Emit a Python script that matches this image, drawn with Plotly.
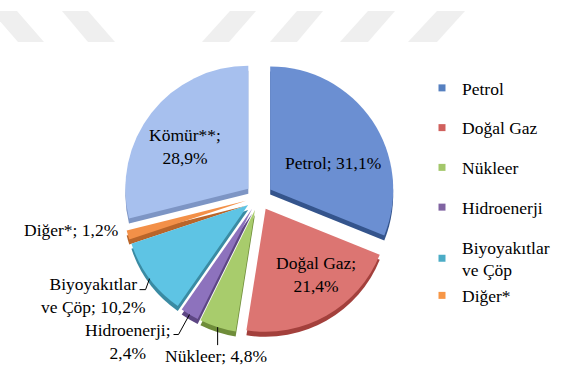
import math
import plotly.graph_objects as go

# ---- data ----
labels = ["Petrol", "Doğal Gaz", "Nükleer", "Hidroenerji", "Biyoyakıtlar ve Çöp", "Diğer*", "Kömür**"]
values = [31.1, 21.4, 4.8, 2.4, 10.2, 1.2, 28.9]
label_texts = ["Petrol; 31,1%", "Doğal Gaz;<br>21,4%", "Nükleer; 4,8%", "Hidroenerji;<br>2,4%",
               "Biyoyakıtlar<br>ve Çöp; 10,2%", "Diğer*; 1,2%", "Kömür**;<br>28,9%"]
legend_names = ["Petrol", "Doğal Gaz", "Nükleer", "Hidroenerji", "Biyoyakıtlar<br>ve Çöp", "Diğer*"]
legend_groups = ["g1", "g2", "g3", "g4", "g5", "g5"]

# ---- style ----
W, H = 564, 368
top_colors = ["#6b8fd2", "#dc7572", "#a8cc6c", "#8d72bd", "#5ec4e4", "#f39048", "#a7c0ee"]
side_colors = ["#34548c", "#a3403c", "#6f8d3a", "#5d4684", "#3a8ba3", "#b9652a", "#7d95c4"]
legend_colors = ["#5680c0", "#d0605d", "#a3c76a", "#8064a2", "#4bacc6", "#f79646"]
FONT = "Times New Roman, Liberation Serif, DejaVu Serif, serif"
FS = 17.5
PULL = 0.11
CX, CY, R = 259, 197, 123
SIZE = 2 * R * (1 + PULL)
DEPTH = 5


def px(x):
    return x / W


def py(y):
    return 1 - y / H


def dom(cx, cy):
    return dict(x=[px(cx - SIZE / 2), px(cx + SIZE / 2)], y=[py(cy + SIZE / 2), py(cy - SIZE / 2)])


fig = go.Figure()

# 3D side (darker pie slightly below)
fig.add_trace(go.Pie(labels=labels, values=values, sort=False, direction="clockwise", rotation=0,
                     pull=[PULL] * len(values), marker=dict(colors=side_colors, line=dict(width=0)),
                     textinfo="none", hoverinfo="skip", showlegend=False, domain=dom(CX, CY + DEPTH)))
# top face
fig.add_trace(go.Pie(labels=labels, values=values, sort=False, direction="clockwise", rotation=0,
                     pull=[PULL] * len(values), marker=dict(colors=top_colors, line=dict(width=0)),
                     textinfo="none", showlegend=False, domain=dom(CX, CY)))

# legend entries
for name, col, grp in zip(legend_names, legend_colors, legend_groups):
    fig.add_trace(go.Scatter(x=[None], y=[None], mode="markers", name=name, legendgroup=grp,
                             marker=dict(symbol="square", size=7, color=col)))

# slice geometry helpers (from data)
total = sum(values)


def edge_point(i, rr=1.0):
    start = sum(values[:i]) / total
    mid = (start + values[i] / total / 2) * 2 * math.pi
    cx = CX + PULL * R * math.sin(mid)
    cy = CY - PULL * R * math.cos(mid)
    return cx + rr * R * math.sin(mid), cy - rr * R * math.cos(mid)


# label positions (pixel)
label_pos = {0: (333, 163), 1: (316, 274), 2: (216, 356), 3: (128, 341), 4: (93, 295), 5: (71, 230), 6: (185, 146)}
annotations = []
for i, (x, y) in label_pos.items():
    annotations.append(dict(x=px(x), y=py(y), xref="paper", yref="paper", text=label_texts[i],
                            showarrow=False, xanchor="center", yanchor="middle", align="center",
                            font=dict(family=FONT, size=FS, color="#000000")))

shapes = []
# leader lines
leaders = {2: [(0, 18)], 3: [(-11, 20), (-16, 20)], 4: [(-4, 11), (-10, 11)]}
for i, offs in leaders.items():
    ex, ey = edge_point(i)
    pts = [(ex, ey)] + [(ex + dx, ey + dy) for dx, dy in offs]
    path = "M " + " L ".join(f"{px(a):.5f},{py(b):.5f}" for a, b in pts)
    shapes.append(dict(type="path", xref="paper", yref="paper", path=path,
                       line=dict(color="#000000", width=1)))

# faint watermark parallelograms at top
wm = [(-9, 17, 18, 44), (62, 88, 88, 115), (230, 256, 202, 229), (297, 323, 270, 297),
      (368, 395, 340, 368), (437, 465, 408, 437)]
for t0, t1, b0, b1 in wm:
    path = (f"M {px(t0):.5f},{py(11):.5f} L {px(t1):.5f},{py(11):.5f} "
            f"L {px(b1):.5f},{py(42):.5f} L {px(b0):.5f},{py(42):.5f} Z")
    shapes.append(dict(type="path", xref="paper", yref="paper", path=path,
                       fillcolor="#efefef", line=dict(width=0), layer="below"))

fig.update_layout(
    width=W, height=H,
    margin=dict(l=0, r=0, t=0, b=0, autoexpand=False),
    paper_bgcolor="#ffffff", plot_bgcolor="#ffffff",
    xaxis=dict(visible=False), yaxis=dict(visible=False),
    showlegend=True,
    legend=dict(x=px(422), y=py(70), xanchor="left", yanchor="top",
                font=dict(family=FONT, size=FS, color="#000000"),
                tracegroupgap=14, itemclick=False, bgcolor="rgba(0,0,0,0)"),
    annotations=annotations,
    shapes=shapes,
    font=dict(family=FONT),
)

fig.write_html("out.html")
